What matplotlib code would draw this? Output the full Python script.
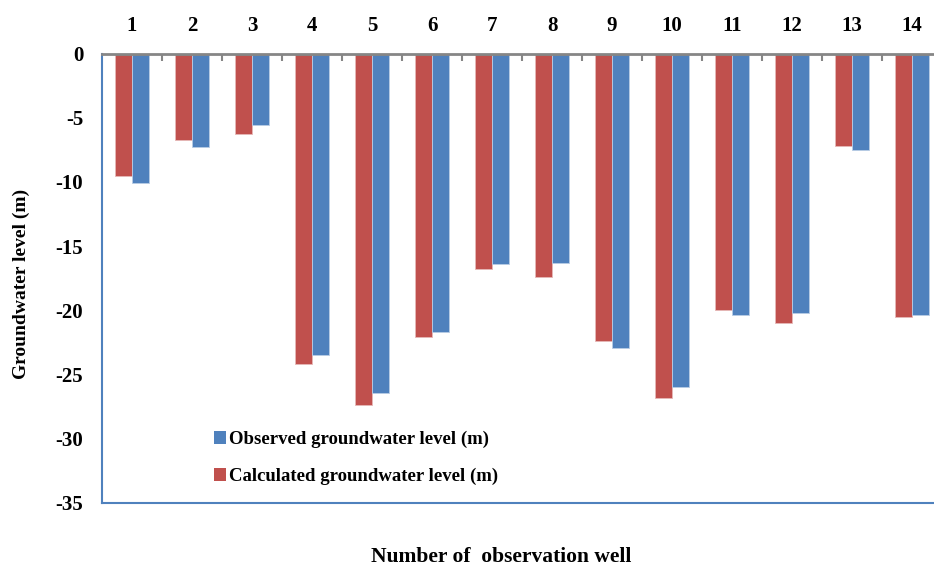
import matplotlib
matplotlib.use("Agg")
import matplotlib.pyplot as plt
import numpy as np

wells = ["1", "2", "3", "4", "5", "6", "7", "8", "9", "10", "11", "12", "13", "14"]
calculated = [-9.5, -6.7, -6.3, -24.2, -27.4, -22.1, -16.8, -17.4, -22.4, -26.8, -20.0, -21.0, -7.2, -20.5]
observed = [-10.1, -7.3, -5.6, -23.5, -26.4, -21.7, -16.4, -16.3, -22.9, -26.0, -20.4, -20.2, -7.5, -20.4]
yticks = [0, -5, -10, -15, -20, -25, -30, -35]

RED = "#C0504D"
BLUE = "#4F81BD"
FONT = "Liberation Serif"

W, H = 934, 566
fig = plt.figure(figsize=(W / 100, H / 100), dpi=100)
left, right_px, top_px, bot_px = 102, 942, 53.5, 503
ax = fig.add_axes([left / W, 1 - bot_px / H, (right_px - left) / W, (bot_px - top_px) / H])

x = np.arange(len(wells))
bw = 0.283
ax.bar(x - bw / 2, calculated, width=bw, color=RED, edgecolor="#E6B8B7", linewidth=0.6,
       label="Calculated groundwater level (m)")
ax.bar(x + bw / 2, observed, width=bw, color=BLUE, edgecolor="#B9CDE5", linewidth=0.6,
       label="Observed groundwater level (m)")

ax.set_xlim(-0.5, len(wells) - 0.5)
ax.set_ylim(-35, 0)

# spines
for s in ["left", "bottom", "right"]:
    ax.spines[s].set_color(BLUE)
    ax.spines[s].set_linewidth(1.5)
ax.spines["top"].set_color("#868686")
ax.spines["top"].set_linewidth(2)

# x axis on top: tick marks at boundaries, labels at centers
ax.xaxis.tick_top()
ax.set_xticks(np.arange(0.5, len(wells) - 0.5, 1))
ax.set_xticklabels([])
ax.tick_params(axis="x", which="major", direction="in", length=5, width=1.5, color="#868686")
ax.set_xticks(x, minor=True)
ax.set_xticklabels(wells, minor=True, fontfamily=FONT, fontweight="bold", fontsize=15)
ax.tick_params(axis="x", which="minor", length=0, pad=12.5)

ax.set_yticks(yticks)
ax.set_yticklabels([str(v) for v in yticks], fontfamily=FONT, fontweight="bold", fontsize=15)
ax.tick_params(axis="y", length=0, pad=13.5)

fig.text(21 / W, 1 - 284 / H, "Groundwater level (m)", rotation=90, ha="center", va="center",
         fontfamily=FONT, fontweight="bold", fontsize=14)
fig.text(501 / W, 1 - 557 / H, "Number of  observation well", ha="center", va="center",
         fontfamily=FONT, fontweight="bold", fontsize=15.5)

h, l = ax.get_legend_handles_labels()
leg = ax.legend(h[::-1], l[::-1], loc="upper left", bbox_to_anchor=(214 / W, 1 - 431 / H),
                bbox_transform=fig.transFigure, frameon=False,
                prop={"family": FONT, "weight": "bold", "size": 13.5},
                handlelength=0.65, handleheight=0.65, handletextpad=0.15, labelspacing=1.05,
                borderpad=0, borderaxespad=0)
for p in leg.get_patches():
    p.set_linewidth(0)

fig.savefig("out.png", dpi=100)
